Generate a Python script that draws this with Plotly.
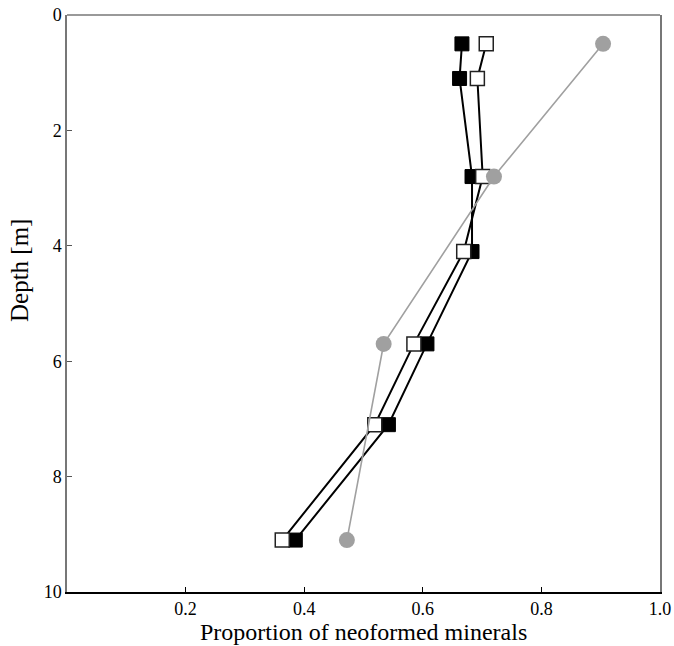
import plotly.graph_objects as go

# Depth profiles of neoformed mineral proportion
depth_sq = [0.5, 1.1, 2.8, 4.1, 5.7, 7.1, 9.1]
series_black = [0.666, 0.662, 0.683, 0.683, 0.607, 0.542, 0.385]
series_white = [0.707, 0.692, 0.701, 0.669, 0.585, 0.519, 0.363]

depth_circ = [0.5, 2.8, 5.7, 9.1]
series_gray = [0.904, 0.720, 0.534, 0.472]

x_ticks = [0.2, 0.4, 0.6, 0.8, 1.0]
x_tick_text = ["0.2", "0.4", "0.6", "0.8", "1.0"]
y_ticks = [0, 2, 4, 6, 8, 10]

font_family = "Liberation Serif, Times New Roman, serif"

W, H = 674, 646
ML, MR, MT, MB = 67, 14, 15, 54
plot_w = W - ML - MR
plot_h = H - MT - MB

fig = go.Figure()

fig.add_trace(go.Scatter(
    x=series_black, y=depth_sq, mode="lines+markers",
    line=dict(color="black", width=2),
    marker=dict(symbol="square", size=14, color="black",
                line=dict(color="black", width=1)),
    showlegend=False,
))
fig.add_trace(go.Scatter(
    x=series_white, y=depth_sq, mode="lines+markers",
    line=dict(color="black", width=2),
    marker=dict(symbol="square", size=14, color="white",
                line=dict(color="#222222", width=1.5)),
    showlegend=False,
))
fig.add_trace(go.Scatter(
    x=series_gray, y=depth_circ, mode="lines+markers",
    line=dict(color="#a0a0a0", width=1.6),
    marker=dict(symbol="circle", size=16, color="#a0a0a0"),
    showlegend=False,
))

fig.update_layout(
    width=W, height=H,
    margin=dict(l=ML, r=MR, t=MT, b=MB),
    paper_bgcolor="white", plot_bgcolor="white",
    font=dict(family=font_family, size=18, color="black"),
    xaxis=dict(
        range=[0, 1.0], tickvals=x_ticks, ticktext=x_tick_text,
        ticks="inside", ticklen=5, tickcolor="black", tickwidth=1,
        showline=True, linecolor="black", linewidth=1.5,
        showgrid=False, zeroline=False, automargin=False,
        tickfont=dict(size=18),
    ),
    yaxis=dict(
        range=[10, 0], tickvals=y_ticks,
        ticks="inside", ticklen=5, tickcolor="#555555", tickwidth=1,
        showline=True, linecolor="#777777", linewidth=1.5, mirror=True,
        showgrid=False, zeroline=False, automargin=False,
        tickfont=dict(size=18),
    ),
    shapes=[dict(type="line", xref="paper", yref="paper",
                 x0=0, x1=1, y0=1, y1=1,
                 line=dict(color="#777777", width=1.5))],
    annotations=[
        dict(text="Proportion of neoformed minerals", xref="paper", yref="paper",
             x=0.5, y=-(632 - (H - MB)) / plot_h, xanchor="center", yanchor="middle",
             showarrow=False, font=dict(size=24)),
        dict(text="Depth [m]", xref="paper", yref="paper",
             x=-(ML - 19) / plot_w, y=((H - MB) - 271) / plot_h,
             xanchor="center", yanchor="middle",
             textangle=-90, showarrow=False, font=dict(size=25)),
    ],
)

fig.write_html("out.html")
